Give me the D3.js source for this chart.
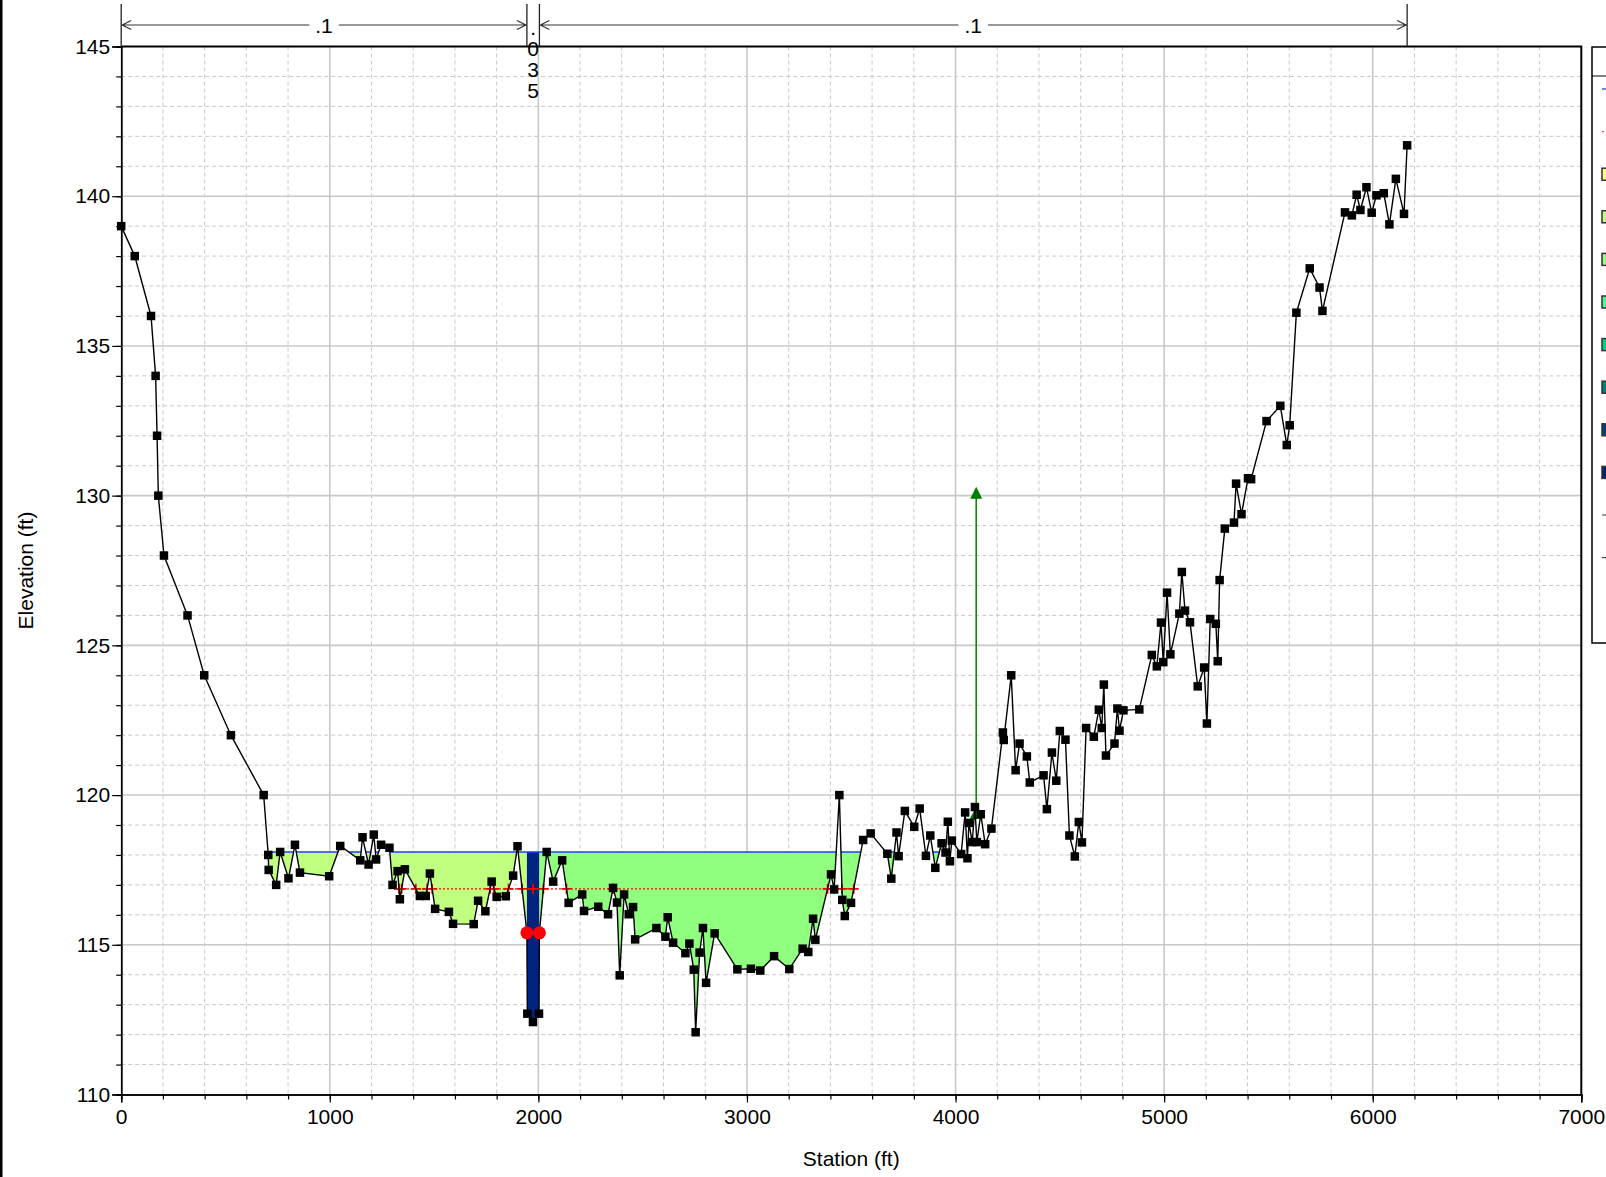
<!DOCTYPE html>
<html>
<head>
<meta charset="utf-8">
<script src="https://cdn.jsdelivr.net/npm/d3@7"></script>
<style>
  html, body { margin: 0; padding: 0; background: #fff; }
  svg { display: block; font-family: "Liberation Sans", Arial, sans-serif; }
</style>
</head>
<body>
<svg id="chart" width="1606" height="1177"></svg>
<script>
// ---- Cross-section survey: station (ft) and ground elevation (ft) ----
const stations = [
  0, 65, 143, 165, 172, 178, 205, 318, 398, 526, 683, 705, 707, 743, 762, 802, 833, 857, 997,
  1050, 1146, 1157, 1186, 1211, 1222, 1246, 1286, 1301, 1325, 1336, 1360, 1432, 1460, 1480,
  1505, 1571, 1591, 1690, 1711, 1746, 1776, 1800, 1844, 1879, 1900, 1945, 1947, 1974, 2003,
  2005, 2040, 2071, 2114, 2145, 2210, 2219, 2287, 2334, 2358, 2377, 2390, 2411, 2433, 2454,
  2464, 2566, 2609, 2620, 2646, 2705, 2724, 2745, 2754, 2773, 2789, 2804, 2845, 2954, 3019,
  3064, 3130, 3203, 3267, 3294, 3317, 3328, 3403, 3418, 3443, 3457, 3469, 3499, 3557, 3593,
  3673, 3692, 3717, 3727, 3757, 3802, 3828, 3858, 3879, 3903, 3933, 3952, 3963, 3973, 3982,
  4027, 4046, 4057, 4064, 4080, 4093, 4102, 4121, 4142, 4172, 4227, 4231, 4267, 4288, 4307,
  4342, 4356, 4422, 4438, 4462, 4483, 4500, 4527, 4546, 4572, 4591, 4606, 4626, 4663, 4687,
  4701, 4711, 4721, 4762, 4776, 4786, 4805, 4881, 4941, 4965, 4985, 4996, 5014, 5030, 5073,
  5085, 5100, 5124, 5161, 5192, 5205, 5221, 5248, 5257, 5266, 5291, 5335, 5345, 5371, 5402,
  5417, 5491, 5557, 5588, 5602, 5634, 5698, 5745, 5759, 5867, 5900, 5923, 5941, 5970, 5995,
  6018, 6053, 6080, 6111, 6150, 6165
];
const elevations = [
  139.0, 138.0, 136.0, 134.0, 132.0, 130.0, 128.0, 126.0, 124.0, 122.0, 120.0, 118.0, 117.5, 117.0, 118.1, 117.22, 118.34, 117.41, 117.29,
  118.3, 117.82, 118.59, 117.68, 118.68, 117.85, 118.34, 118.24, 117.0, 117.46, 116.52, 117.52, 116.63, 116.63, 117.38,
  116.2, 116.1, 115.7, 115.69, 116.47, 116.12, 117.11, 116.6, 116.62, 117.31, 118.29, 115.4, 112.7, 112.42, 112.7,
  115.4, 118.1, 117.11, 117.82, 116.4, 116.68, 116.13, 116.27, 116.02, 116.9, 116.41, 113.98, 116.68, 116.02, 116.26,
  115.18, 115.56, 115.27, 115.92, 115.07, 114.72, 115.04, 114.17, 112.08, 114.74, 115.56, 113.73, 115.38, 114.18, 114.2,
  114.14, 114.62, 114.19, 114.87, 114.76, 115.87, 115.17, 117.35, 116.85, 120.0, 116.5, 115.96, 116.4, 118.5, 118.72,
  118.04, 117.21, 118.75, 117.96, 119.47, 118.94, 119.55, 117.97, 118.65, 117.57, 118.39, 118.08, 119.11, 117.79, 118.48,
  118.03, 119.42, 117.89, 119.07, 118.43, 119.6, 118.43, 119.36, 118.36, 118.88, 122.09, 121.84, 124.0, 120.83, 121.72,
  121.29, 120.42, 120.66, 119.53, 121.42, 120.48, 122.14, 121.85, 118.65, 117.95, 119.1, 118.42, 122.24, 121.95, 122.85,
  122.24, 123.69, 121.32, 121.72, 122.89, 122.15, 122.83, 122.86, 124.68, 124.3, 125.76, 124.44, 126.76, 124.7, 126.06,
  127.45, 126.16, 125.77, 123.63, 124.26, 122.39, 125.88, 125.72, 124.47, 127.18, 128.9, 129.1, 130.4, 129.38, 130.58,
  130.55, 132.49, 133.0, 131.69, 132.35, 136.11, 137.59, 136.95, 136.17, 139.46, 139.36, 140.05, 139.54, 140.3, 139.45,
  140.03, 140.1, 139.06, 140.58, 139.41, 141.7
];

// Water surface and critical water surface elevations (ft)
const wsElev = 118.1;
const critElev = 116.87;

// Manning's n regions: boundary stations and values
const nStations = [0, 1945, 2005, 6165];
const nValues = [".1", ".035", ".1"];
// Main-channel bank stations
const bankStations = [1945, 2005];

// Levee: station, toe elevation, crest elevation
const leveeStation = 4099;
const leveeToe = 119.35;
const leveeTop = 130.3;

// Velocity colour classes (legend order) and the class used per subsection
const velColors = ["#ffff80", "#c0ff80", "#90ff80", "#40ff90", "#00d080", "#008080", "#004080", "#00237f"];
const subsectionClass = [1, 7, 2];

// Axis ticks
const xTicks = [0, 1000, 2000, 3000, 4000, 5000, 6000, 7000];
const yTicks = [110, 115, 120, 125, 130, 135, 140, 145];

// ---- Scales ----
const x = d3.scaleLinear().domain([0, 7000]).range([121.2, 1581.3]);
const y = d3.scaleLinear().domain([110, 145]).range([1094.5, 46.5]);
const svg = d3.select("#chart");
const ground = stations.map((s, i) => [s, elevations[i]]);
const gridColor = "#c8c8c8";
const fontPx = "21px";

// Window edge on the left
svg.append("rect").attr("x", 0).attr("y", 0).attr("width", 2.5).attr("height", 1177).attr("fill", "#000");

// ---- Grid ----
const grid = svg.append("g");
grid.selectAll("line.mx").data(d3.range(200, 7000, 200).filter(v => v % 1000 !== 0)).join("line")
  .attr("x1", d => x(d)).attr("x2", d => x(d)).attr("y1", y(145)).attr("y2", y(110))
  .attr("stroke", gridColor).attr("stroke-width", 1).attr("stroke-dasharray", "4,3");
grid.selectAll("line.my").data(d3.range(111, 145, 1).filter(v => v % 5 !== 0)).join("line")
  .attr("x1", x(0)).attr("x2", x(7000)).attr("y1", d => y(d)).attr("y2", d => y(d))
  .attr("stroke", gridColor).attr("stroke-width", 1).attr("stroke-dasharray", "4,3");
grid.selectAll("line.Mx").data(xTicks.slice(1, -1)).join("line")
  .attr("x1", d => x(d)).attr("x2", d => x(d)).attr("y1", y(145)).attr("y2", y(110))
  .attr("stroke", gridColor).attr("stroke-width", 1.6);
grid.selectAll("line.My").data(yTicks.slice(1, -1)).join("line")
  .attr("x1", x(0)).attr("x2", x(7000)).attr("y1", d => y(d)).attr("y2", d => y(d))
  .attr("stroke", gridColor).attr("stroke-width", 1.6);

// ---- Wetted area: everything above the ground line, below the water surface ----
const lastSta = stations[stations.length - 1];
const defs = svg.append("defs");
const abovePts = ground.map(([s, e]) => [x(s), y(e)]).concat([[x(lastSta), y(145)], [x(0), y(145)]]);
defs.append("clipPath").attr("id", "wet").append("path").attr("d", d3.line()(abovePts) + "Z");

const water = svg.append("g").attr("clip-path", "url(#wet)");
const subs = nValues.map((_, i) => ({ a: nStations[i], b: nStations[i + 1], c: velColors[subsectionClass[i]] }));
water.selectAll("rect").data(subs).join("rect")
  .attr("x", d => x(d.a)).attr("width", d => x(d.b) - x(d.a))
  .attr("y", y(wsElev)).attr("height", y(110) - y(wsElev))
  .attr("fill", d => d.c);
water.append("line")
  .attr("x1", x(0)).attr("x2", x(lastSta)).attr("y1", y(wsElev)).attr("y2", y(wsElev))
  .attr("stroke", "#1f3cff").attr("stroke-width", 1.6);

// ---- Critical water surface ----
const crossings = [];
for (let i = 0; i < ground.length - 1; i++) {
  const [s1, e1] = ground[i], [s2, e2] = ground[i + 1];
  if ((e1 - critElev) * (e2 - critElev) < 0) crossings.push(s1 + (critElev - e1) / (e2 - e1) * (s2 - s1));
}
const critMarks = crossings.concat([(bankStations[0] + bankStations[1]) / 2]);
const crit = svg.append("g");
crit.append("line")
  .attr("x1", x(d3.min(crossings))).attr("x2", x(d3.max(crossings)))
  .attr("y1", y(critElev)).attr("y2", y(critElev))
  .attr("stroke", "#ff0000").attr("stroke-width", 1.3).attr("stroke-dasharray", "2,2");
crit.selectAll("path").data(critMarks).join("path")
  .attr("d", d => `M${x(d) - 5},${y(critElev)}H${x(d) + 5}M${x(d)},${y(critElev) - 5}V${y(critElev) + 5}`)
  .attr("stroke", "#ff0000").attr("stroke-width", 1.7).attr("fill", "none");

// ---- Levee marker ----
const lev = svg.append("g").attr("fill", "#008000").attr("stroke", "#008000");
lev.append("line").attr("x1", x(leveeStation)).attr("x2", x(leveeStation))
  .attr("y1", y(leveeToe)).attr("y2", y(leveeTop) + 6).attr("stroke-width", 1.5);
lev.append("path").attr("stroke", "none")
  .attr("d", `M${x(leveeStation)},${y(leveeTop)}l-6,12h12z`);

// ---- Ground line and survey points ----
svg.append("path").datum(ground)
  .attr("d", d3.line().x(d => x(d[0])).y(d => y(d[1])))
  .attr("fill", "none").attr("stroke", "#000").attr("stroke-width", 1.4);
svg.append("g").selectAll("rect").data(ground).join("rect")
  .attr("x", d => x(d[0]) - 4.25).attr("y", d => y(d[1]) - 4.25)
  .attr("width", 8.5).attr("height", 8.5).attr("fill", "#000");

lev.append("path").attr("stroke", "none")
  .attr("d", `M${x(leveeStation)},${y(leveeToe) - 8}l-6.5,12.5h13z`);

// Bank station markers at the ground elevation of each bank
const elevAt = s => ground.find(d => d[0] === s)[1];
svg.append("g").selectAll("circle").data(bankStations).join("circle")
  .attr("cx", d => x(d)).attr("cy", d => y(elevAt(d))).attr("r", 6.5).attr("fill", "#ff0000");

// ---- Axes ----
function styleAxis(g) {
  g.attr("font-family", null).attr("font-size", null);
  g.select(".domain").attr("stroke", "#000").attr("stroke-width", 1.5);
  g.selectAll(".tick line").attr("stroke", "#000").attr("stroke-width", 1.2);
  g.selectAll(".tick text").attr("fill", "#000").style("font-size", fontPx);
}
svg.append("g").attr("transform", `translate(${x(0)},0)`)
  .call(d3.axisLeft(y).tickValues(d3.range(110, 146, 1)).tickSize(5).tickFormat(""))
  .call(styleAxis);
svg.append("g").attr("transform", `translate(${x(0)},0)`)
  .call(d3.axisLeft(y).tickValues(yTicks).tickSize(9).tickPadding(2).tickFormat(d3.format("d")))
  .call(styleAxis);
svg.append("g").attr("transform", `translate(0,${y(110)})`)
  .call(d3.axisBottom(x).tickValues(d3.range(0, 7001, 200)).tickSize(5).tickFormat(""))
  .call(styleAxis);
svg.append("g").attr("transform", `translate(0,${y(110)})`)
  .call(d3.axisBottom(x).tickValues(xTicks).tickSize(8).tickPadding(7).tickFormat(d3.format("d")))
  .call(styleAxis);

// Plot frame (top and right)
svg.append("path").attr("d", `M${x(0)},${y(145)}H${x(7000)}V${y(110)}`)
  .attr("fill", "none").attr("stroke", "#000").attr("stroke-width", 2);

// Axis titles
svg.append("text").attr("x", (x(0) + x(7000)) / 2).attr("y", 1166)
  .attr("text-anchor", "middle").style("font-size", fontPx).text("Station (ft)");
svg.append("text").attr("transform", `translate(33,${(y(110) + y(145)) / 2}) rotate(-90)`)
  .attr("text-anchor", "middle").style("font-size", fontPx).text("Elevation (ft)");

// ---- Manning's n annotation above the plot ----
const nG = svg.append("g");
const arrowY = 25;
nStations.forEach(s => {
  nG.append("line").attr("x1", x(s)).attr("x2", x(s)).attr("y1", 4).attr("y2", y(145))
    .attr("stroke", "#222").attr("stroke-width", 1.3);
});
nValues.forEach((v, i) => {
  const xa = x(nStations[i]), xb = x(nStations[i + 1]), mid = (xa + xb) / 2;
  if (xb - xa > 60) {
    const t = nG.append("text").attr("x", mid).attr("y", 33).attr("text-anchor", "middle")
      .style("font-size", fontPx).text(v);
    const w = t.node().getComputedTextLength();
    nG.append("path").attr("fill", "none").attr("stroke", "#333").attr("stroke-width", 1.2)
      .attr("d", `M${xa},${arrowY}H${mid - w / 2 - 6}M${mid + w / 2 + 6},${arrowY}H${xb}` +
        `M${xa + 10},${arrowY - 4.5}L${xa + 1},${arrowY}L${xa + 10},${arrowY + 4.5}` +
        `M${xb - 10},${arrowY - 4.5}L${xb - 1},${arrowY}L${xb - 10},${arrowY + 4.5}`);
  } else {
    const t = nG.append("text").attr("text-anchor", "middle").style("font-size", fontPx);
    v.split("").forEach((ch, k) => {
      t.append("tspan").attr("x", mid).attr("y", 35 + k * 21).text(ch);
    });
  }
});

// ---- Legend (partly outside the view) ----
const lg = svg.append("g");
lg.append("rect").attr("x", 1592).attr("y", 47).attr("width", 60).attr("height", 596)
  .attr("fill", "#fff").attr("stroke", "#000").attr("stroke-width", 1.5);
lg.append("line").attr("x1", 1592).attr("x2", 1652).attr("y1", 76).attr("y2", 76)
  .attr("stroke", "#000").attr("stroke-width", 1.2);
const legX = 1602, legY0 = 89, legStep = 42.6;
lg.append("line").attr("x1", legX).attr("x2", legX + 20).attr("y1", legY0).attr("y2", legY0)
  .attr("stroke", "#1f3cff").attr("stroke-width", 1.3);
lg.append("line").attr("x1", legX).attr("x2", legX + 20).attr("y1", legY0 + legStep).attr("y2", legY0 + legStep)
  .attr("stroke", "#ff4040").attr("stroke-width", 1.3).attr("stroke-dasharray", "2,2");
lg.selectAll("rect.sw").data(velColors).join("rect")
  .attr("x", legX).attr("y", (d, i) => legY0 + (i + 2) * legStep - 6)
  .attr("width", 14).attr("height", 12).attr("fill", d => d)
  .attr("stroke", "#333").attr("stroke-width", 1.5);
lg.append("line").attr("x1", legX).attr("x2", legX + 20)
  .attr("y1", legY0 + 10 * legStep).attr("y2", legY0 + 10 * legStep)
  .attr("stroke", "#606060").attr("stroke-width", 1.3);
lg.append("line").attr("x1", legX).attr("x2", legX + 20)
  .attr("y1", legY0 + 11 * legStep).attr("y2", legY0 + 11 * legStep)
  .attr("stroke", "#008000").attr("stroke-width", 1.3);
</script>
</body>
</html>
